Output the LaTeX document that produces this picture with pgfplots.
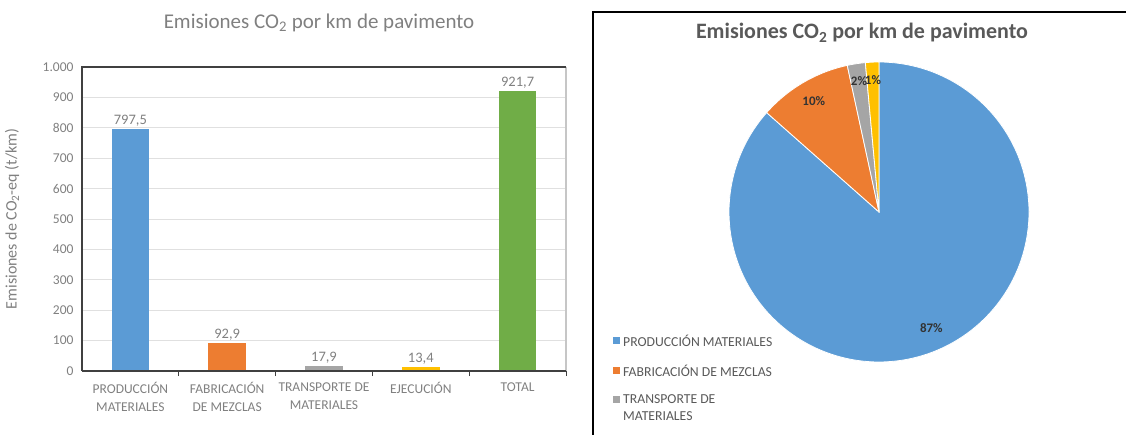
\documentclass[border=0pt]{standalone}
\usepackage{fontspec}
\setmainfont{Carlito}
\usepackage{pgfplots}
\pgfplotsset{compat=1.18}
\definecolor{cblue}{HTML}{5B9BD5}
\definecolor{corange}{HTML}{ED7D31}
\definecolor{cgray}{HTML}{A5A5A5}
\definecolor{cyellow}{HTML}{FFC000}
\definecolor{cgreen}{HTML}{70AD47}
\definecolor{tgray}{HTML}{808080}
\definecolor{tdark}{HTML}{595959}
\definecolor{gridc}{HTML}{E0E0E0}
\begin{document}
\begin{tikzpicture}[x=1pt,y=1pt]
\useasboundingbox (0,0) rectangle (1126,434);
% ---------- left chart ----------
\node[text=tgray, font=\fontsize{21}{23}\selectfont] at (319,411) {Emisiones CO\textsubscript{2} por km de pavimento};
\begin{axis}[
  at={(82pt,63pt)}, anchor=south west,
  scale only axis, width=484pt, height=304pt,
  xmin=-0.5, xmax=4.5, ymin=0, ymax=1000,
  ybar, bar width=37.5pt,
  axis line style={draw=none},
  ytick={0,100,...,1000},
  yticklabels={0,100,200,300,400,500,600,700,800,900,1.000},
  ymajorgrids, grid style={gridc, line width=0.8pt},
  major tick length=0pt,
  tick pos=left,
  yticklabel style={text=tgray, font=\fontsize{13.5}{15}\selectfont, xshift=-5pt},
  ylabel={Emisiones de CO\textsubscript{2}-eq (t/km)},
  every axis y label/.style={at={(-70pt,152pt)}, rotate=90, anchor=center, text=tgray, font=\fontsize{16}{18}\selectfont},
  xtick={0,1,2,3,4},
  xticklabels={{PRODUCCIÓN\\MATERIALES},{FABRICACIÓN\\DE MEZCLAS},{TRANSPORTE DE\\MATERIALES},{EJECUCIÓN},{TOTAL}},
  xticklabel style={text=tgray, font=\fontsize{13.5}{18}\selectfont, align=center, anchor=north, yshift=-8pt},
  extra x ticks={0.5,1.5,2.5,3.5,4.5},
  extra x tick labels={},
  extra x tick style={major tick length=5pt, xtick align=outside, tick style={draw=black!75, line width=1pt}, grid=none},
  nodes near coords style={text=tgray, font=\fontsize{14.5}{16}\selectfont, yshift=-1pt},
  clip=false,
]
\addplot[fill=cblue, draw=none, bar shift=0pt, nodes near coords={797{,}5}] coordinates {(0,797.5)};
\addplot[fill=corange, draw=none, bar shift=0pt, nodes near coords={92{,}9}] coordinates {(1,92.9)};
\addplot[fill=cgray, draw=none, bar shift=0pt, nodes near coords={17{,}9}] coordinates {(2,17.9)};
\addplot[fill=cyellow, draw=none, bar shift=0pt, nodes near coords={13{,}4}] coordinates {(3,13.4)};
\addplot[fill=cgreen, draw=none, bar shift=0pt, nodes near coords={921{,}7}] coordinates {(4,921.7)};
\draw[gray!45, line width=1.5pt] (rel axis cs:1,1) -- (rel axis cs:1,0);
\draw[black!75, line width=1.2pt] (rel axis cs:0,0) -- (rel axis cs:0,1) -- (rel axis cs:1,1);
\draw[black!75, line width=1.2pt] (rel axis cs:0,0) -- (rel axis cs:1,0);
\end{axis}
% ---------- right chart ----------
\draw[black, line width=1.5pt] (593,-5) -- (593,422) -- (1135,422);
\node[text=tdark, font=\fontsize{22}{24}\selectfont\bfseries] at (862,401) {Emisiones CO\textsubscript{2} por km de pavimento};
\pgfmathsetmacro{\vA}{797.5}
\pgfmathsetmacro{\vB}{92.9}
\pgfmathsetmacro{\vC}{17.9}
\pgfmathsetmacro{\vD}{13.4}
\pgfmathsetmacro{\tot}{\vA+\vB+\vC+\vD}
\pgfmathsetmacro{\aZ}{90}
\pgfmathsetmacro{\aA}{\aZ-360*(\vA/\tot)}
\pgfmathsetmacro{\aB}{\aA-360*(\vB/\tot)}
\pgfmathsetmacro{\aC}{\aB-360*(\vC/\tot)}
\pgfmathsetmacro{\aD}{\aC-360*(\vD/\tot)}
\pgfmathsetmacro{\mA}{(\aZ+\aA)/2}
\pgfmathsetmacro{\mB}{(\aA+\aB)/2}
\pgfmathsetmacro{\mC}{(\aB+\aC)/2}
\pgfmathsetmacro{\mD}{(\aC+\aD)/2}
\begin{axis}[
  at={(879pt,222pt)}, anchor=center,
  scale only axis, width=300pt, height=300pt,
  xmin=-1, xmax=1, ymin=-1, ymax=1,
  hide axis, clip=false,
]
\addplot[fill=cblue, draw=white, line width=0.8pt, domain=\aA:\aZ, samples=150] ({cos(x)},{sin(x)}) -- (axis cs:0,0) -- cycle;
\addplot[fill=corange, draw=white, line width=0.8pt, domain=\aB:\aA, samples=30] ({cos(x)},{sin(x)}) -- (axis cs:0,0) -- cycle;
\addplot[fill=cgray, draw=white, line width=0.8pt, domain=\aC:\aB, samples=10] ({cos(x)},{sin(x)}) -- (axis cs:0,0) -- cycle;
\addplot[fill=cyellow, draw=white, line width=0.8pt, domain=\aD:\aC, samples=10] ({cos(x)},{sin(x)}) -- (axis cs:0,0) -- cycle;
\node[font=\fontsize{13}{15}\selectfont\bfseries, text=black!80] at (axis cs:{0.85*cos(\mA)},{0.85*sin(\mA)}) {87\%};
\node[font=\fontsize{13}{15}\selectfont\bfseries, text=black!80] at (axis cs:{0.86*cos(\mB)},{0.86*sin(\mB)}) {10\%};
\node[font=\fontsize{13}{15}\selectfont\bfseries, text=black!80] at (axis cs:{0.88*cos(\mC)},{0.88*sin(\mC)}) {2\%};
\node[font=\fontsize{13}{15}\selectfont\bfseries, text=black!80] at (axis cs:{0.88*cos(\mD)},{0.88*sin(\mD)}) {1\%};
\end{axis}
% legend
\fill[cblue] (613,90) rectangle (620,97);
\node[anchor=west, text=tdark, font=\fontsize{13.7}{16}\selectfont, inner sep=0pt] at (623,93) {PRODUCCIÓN MATERIALES};
\fill[corange] (613,60) rectangle (620,67);
\node[anchor=west, text=tdark, font=\fontsize{13.7}{16}\selectfont, inner sep=0pt] at (623,63) {FABRICACIÓN DE MEZCLAS};
\fill[cgray] (613,31) rectangle (620,38);
\node[anchor=north west, text=tdark, font=\fontsize{13.7}{17}\selectfont, inner sep=0pt, align=left] at (623,40) {TRANSPORTE DE\\MATERIALES};
\end{tikzpicture}
\end{document}
